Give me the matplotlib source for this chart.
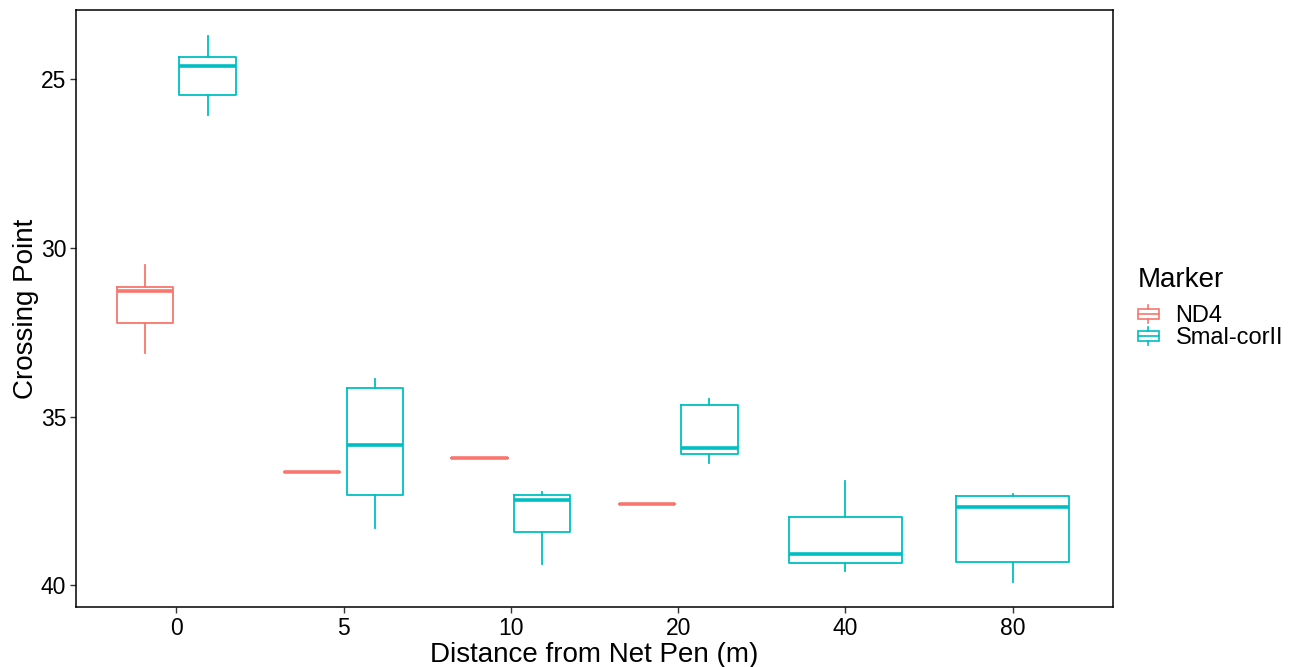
import matplotlib
matplotlib.use("Agg")
import matplotlib.pyplot as plt
from matplotlib.patches import Rectangle
from matplotlib.lines import Line2D
from matplotlib.legend_handler import HandlerBase

plt.rcParams['font.family'] = ['Liberation Sans', 'DejaVu Sans']

# Distance categories (m)
categories = ["0", "5", "10", "20", "40", "80"]

# ND4 marker: five-number summaries per distance (present at 0, 5, 10, 20 m)
nd4_cats = ["0", "5", "10", "20"]
nd4_whislo = [30.50, 36.65, 36.23, 37.58]
nd4_q1 = [31.16, 36.65, 36.23, 37.58]
nd4_med = [31.28, 36.65, 36.23, 37.58]
nd4_q3 = [32.22, 36.65, 36.23, 37.58]
nd4_whishi = [33.11, 36.65, 36.23, 37.58]

# Smal-corII marker: five-number summaries per distance
smal_cats = ["0", "5", "10", "20", "40", "80"]
smal_whislo = [23.72, 33.90, 37.23, 34.49, 36.90, 37.30]
smal_q1 = [24.33, 34.15, 37.34, 34.66, 37.99, 37.37]
smal_med = [24.61, 35.85, 37.48, 35.94, 39.09, 37.69]
smal_q3 = [25.45, 37.34, 38.42, 36.10, 39.34, 39.32]
smal_whishi = [26.05, 38.32, 39.37, 36.38, 39.58, 39.91]

markers = ["ND4", "Smal-corII"]
colors = {"ND4": "#F8766D", "Smal-corII": "#00BFC4"}

series = {
    "ND4": (nd4_cats, nd4_whislo, nd4_q1, nd4_med, nd4_q3, nd4_whishi),
    "Smal-corII": (smal_cats, smal_whislo, smal_q1, smal_med, smal_q3, smal_whishi),
}

fig = plt.figure(figsize=(12.98, 6.67), dpi=100)
ax = fig.add_axes([76 / 1298, 1 - 607 / 667, (1113 - 76) / 1298, (607 - 10) / 667])

BOX_LW = 1.3
MED_LW = 2.6
DODGE_W = 0.75
PAD = 0.1

for m in markers:
    cats, wl, q1, med, q3, wh = series[m]
    for i, c in enumerate(cats):
        xi = categories.index(c)
        groups = [mm for mm in markers if c in series[mm][0]]
        n = len(groups)
        slot = DODGE_W / n
        k = groups.index(m)
        center = xi - DODGE_W / 2 + slot * (k + 0.5)
        width = slot * (1 - PAD)
        stats = [dict(whislo=wl[i], q1=q1[i], med=med[i], q3=q3[i], whishi=wh[i], fliers=[])]
        col = colors[m]
        ax.bxp(stats, positions=[center], widths=[width], showcaps=False,
               patch_artist=False, manage_ticks=False,
               boxprops=dict(color=col, linewidth=BOX_LW),
               whiskerprops=dict(color=col, linewidth=BOX_LW),
               medianprops=dict(color=col, linewidth=MED_LW, solid_capstyle='butt'))

ax.set_xlim(-0.6, len(categories) - 1 + 0.6)
ax.set_xticks(range(len(categories)))
ax.set_xticklabels(categories)
ax.set_ylim(40.65, 22.94)
ax.set_yticks([25, 30, 35, 40])

for s in ax.spines.values():
    s.set_color("black")
    s.set_linewidth(1.1)
ax.tick_params(axis='both', direction='out', length=4, width=1.0, color='#333333',
               labelsize=16.5, labelcolor='black', pad=3)

ax.set_xlabel("Distance from Net Pen (m)", fontsize=20, labelpad=2)
ax.set_ylabel("Crossing Point", fontsize=20, labelpad=1)


class BoxKeyHandler(HandlerBase):
    def create_artists(self, legend, orig_handle, xdescent, ydescent,
                       width, height, fontsize, trans):
        col = orig_handle.get_color()
        x0, y0 = -xdescent, -ydescent
        bw = width
        bx = x0
        cx = x0 + width / 2
        lw = 1.2
        box = Rectangle((bx, y0 + 0.2 * height), bw, 0.6 * height,
                        fill=False, edgecolor=col, linewidth=lw, transform=trans)
        med = Line2D([bx, bx + bw], [y0 + 0.5 * height] * 2, color=col, lw=lw, transform=trans)
        w1 = Line2D([cx, cx], [y0, y0 + 0.2 * height], color=col, lw=lw, transform=trans)
        w2 = Line2D([cx, cx], [y0 + 0.8 * height, y0 + height], color=col, lw=lw, transform=trans)
        return [box, med, w1, w2]


handles = [Line2D([], [], color=colors[m]) for m in markers]
leg = fig.legend(handles, markers, loc='upper left',
                 bbox_to_anchor=(1133 / 1298, 1 - 262 / 667),
                 frameon=False, fontsize=17, title="Marker", title_fontsize=20,
                 handler_map={Line2D: BoxKeyHandler()},
                 handlelength=0.9, handleheight=0.75, handletextpad=0.7,
                 labelspacing=0.0, borderpad=0.2, borderaxespad=0)
leg._legend_box.align = "left"
leg._legend_box.sep = 9

fig.savefig("out.png", dpi=100)
